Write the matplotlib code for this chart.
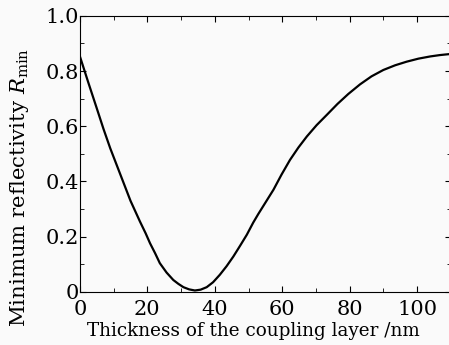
import matplotlib
matplotlib.use("Agg")
import matplotlib.pyplot as plt
from matplotlib.ticker import MultipleLocator

# thickness (nm) vs minimum reflectivity
thickness = [0, 2.5, 5, 7, 9, 12, 15, 17.8, 19.5, 20.8, 22.3, 23.7, 25.7,
             27.7, 29.2, 30.7, 32.4, 34.1, 35.8, 37.6, 39.5, 41.5, 43.5,
             45.5, 47.5, 49.5, 51.4, 52.9, 55.2, 57.4, 59.8, 62.3, 64.8,
             67.3, 70.2, 73.2, 76.4, 79.6, 83.1, 86.5, 90, 93.5, 96.9,
             100.4, 103.9, 106.8, 110]
r_min = [0.853, 0.758, 0.665, 0.59, 0.52, 0.425, 0.33, 0.255, 0.212, 0.176,
         0.14, 0.104, 0.07, 0.043, 0.029, 0.017, 0.009, 0.005, 0.008, 0.017,
         0.035, 0.062, 0.093, 0.128, 0.167, 0.207, 0.251, 0.282, 0.327, 0.37,
         0.425, 0.478, 0.523, 0.563, 0.604, 0.641, 0.681, 0.717, 0.752,
         0.781, 0.804, 0.821, 0.834, 0.845, 0.853, 0.858, 0.862]

plt.rcParams['font.family'] = 'DejaVu Serif'
plt.rcParams['mathtext.fontset'] = 'dejavuserif'

fig = plt.figure(figsize=(4.49, 3.45), dpi=100, facecolor='#fafafa')
ax = fig.add_axes([0.178, 0.154, 0.826, 0.80])
ax.set_facecolor('#fafafa')

ax.plot(thickness, r_min, color='black', lw=1.6)

ax.set_xlim(0, 110)
ax.set_ylim(0, 1.0)
ax.xaxis.set_major_locator(MultipleLocator(20))
ax.xaxis.set_minor_locator(MultipleLocator(10))
ax.yaxis.set_minor_locator(MultipleLocator(0.1))
ax.set_yticks([0, 0.2, 0.4, 0.6, 0.8, 1.0])
ax.set_yticklabels(['0', '0.2', '0.4', '0.6', '0.8', '1.0'])
ax.tick_params(which='both', direction='in', top=True, right=True,
               labelsize=15, pad=1)
ax.tick_params(axis='x', which='major', pad=6)
ax.tick_params(which='major', length=4)
ax.tick_params(which='minor', length=3)

ax.set_xlabel('Thickness of the coupling layer /nm', fontsize=13.2)
ax.xaxis.set_label_coords(0.468, -0.108, transform=ax.transAxes)
ax.xaxis.label.set_va('top')
ax.set_ylabel(r'Minimum reflectivity $R_{\rm min}$', fontsize=15.3)
ax.yaxis.set_label_coords(-0.132, 0.38)

fig.savefig('out.png', dpi=100, facecolor=fig.get_facecolor())
